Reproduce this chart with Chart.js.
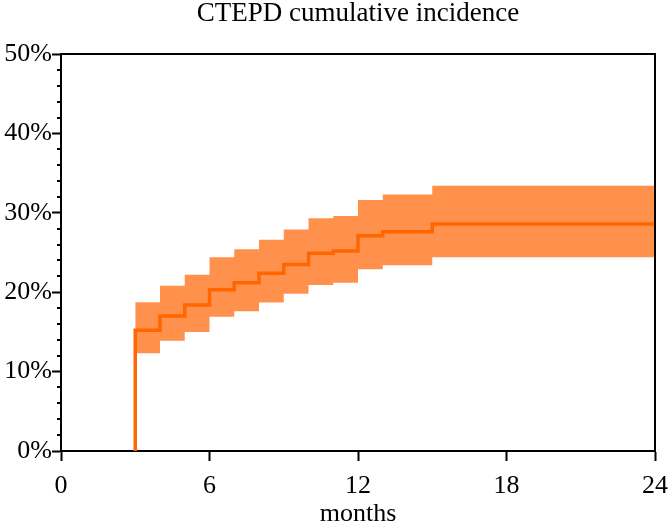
<!DOCTYPE html>
<html>
<head>
<meta charset="utf-8">
<script src="https://cdn.jsdelivr.net/npm/chart.js@4/dist/chart.umd.min.js"></script>
<style>
  html, body { margin: 0; padding: 0; background: #ffffff; }
  #wrap { width: 669px; height: 525px; }
</style>
</head>
<body>
<div id="wrap"><canvas id="c" width="669" height="525"></canvas></div>
<script>
// Data (months since event, cumulative incidence %)
const months   = [3, 4, 5, 6, 7, 8, 9, 10, 11, 12, 13, 15, 24];
const estimate = [15.2, 17.0, 18.4, 20.3, 21.2, 22.4, 23.5, 24.9, 25.2, 27.1, 27.6, 28.6, 28.6];
const upperCI  = [18.75, 20.8, 22.2, 24.4, 25.4, 26.6, 27.9, 29.3, 29.6, 31.6, 32.3, 33.4, 33.4];
const lowerCI  = [12.3, 13.9, 15.0, 16.9, 17.6, 18.7, 19.8, 20.9, 21.2, 22.9, 23.4, 24.4, 24.4];
const startMonth = 3;
const startValue = 0;
const xTicks = [0, 6, 12, 18, 24];
const yTicks = [0, 10, 20, 30, 40, 50];
const titleText = 'CTEPD cumulative incidence';

const toPts = (xs, ys) => xs.map((x, i) => ({ x: x, y: ys[i] }));
const estPts = [{ x: startMonth, y: startValue }].concat(toPts(months, estimate));

const FONT = '"Liberation Serif", "Times New Roman", serif';

const frameAndMinor = {
  id: 'frameAndMinor',
  afterDraw(chart) {
    const ctx = chart.ctx;
    const a = chart.chartArea;
    const ys = chart.scales.y;
    ctx.save();
    ctx.strokeStyle = '#000';
    ctx.lineWidth = 2;
    ctx.beginPath();
    ctx.moveTo(a.left, a.top);
    ctx.lineTo(a.right, a.top);
    ctx.lineTo(a.right, a.bottom);
    ctx.stroke();
    // minor ticks every 2%
    ctx.beginPath();
    for (let v = ys.min; v <= ys.max; v += 2) {
      if (v % 10 === 0) continue;
      const py = Math.round(ys.getPixelForValue(v));
      ctx.moveTo(a.left - 4, py);
      ctx.lineTo(a.left, py);
    }
    ctx.stroke();
    // title centred over the plot area
    ctx.fillStyle = '#000';
    ctx.font = '27px ' + FONT;
    ctx.textAlign = 'center';
    ctx.textBaseline = 'alphabetic';
    ctx.fillText(titleText, (a.left + a.right) / 2, 21);
    ctx.restore();
  }
};

new Chart(document.getElementById('c'), {
  type: 'line',
  data: {
    datasets: [
      {
        label: 'CTEPD',
        data: estPts,
        stepped: 'before',
        borderColor: '#FF6600',
        borderWidth: 3.5,
        pointRadius: 0,
        fill: false
      },
      {
        label: 'upper',
        data: toPts(months, upperCI),
        stepped: 'before',
        borderWidth: 0,
        borderColor: 'rgba(0,0,0,0)',
        backgroundColor: '#FF914D',
        pointRadius: 0,
        fill: '+1'
      },
      {
        label: 'lower',
        data: toPts(months, lowerCI),
        stepped: 'before',
        borderWidth: 0,
        borderColor: 'rgba(0,0,0,0)',
        pointRadius: 0,
        fill: false
      }
    ]
  },
  options: {
    responsive: false,
    animation: false,
    devicePixelRatio: 1,
    layout: { padding: { left: 0, right: 14, top: 54, bottom: 0 } },
    plugins: {
      legend: { display: false },
      tooltip: { enabled: false },
      title: { display: false }
    },
    scales: {
      x: {
        type: 'linear',
        min: 0,
        max: 24,
        afterBuildTicks(s) { s.ticks = xTicks.map(v => ({ value: v })); },
        afterFit(s) { s.height = 74; s.paddingLeft = 0; s.paddingRight = 0; },
        border: { display: true, color: '#000', width: 2 },
        grid: { display: true, drawOnChartArea: false, drawTicks: true, tickLength: 10, tickColor: '#000', tickWidth: 2 },
        ticks: { color: '#000', padding: 10, maxRotation: 0, autoSkip: false, font: { family: FONT, size: 26 } },
        title: { display: true, text: 'months', color: '#000', padding: { top: 0, bottom: -2 }, font: { family: FONT, size: 26, lineHeight: 1.0 } }
      },
      y: {
        type: 'linear',
        min: 0,
        max: 50,
        afterBuildTicks(s) { s.ticks = yTicks.map(v => ({ value: v })); },
        afterFit(s) { s.width = 61; s.paddingTop = 0; s.paddingBottom = 0; },
        border: { display: true, color: '#000', width: 2 },
        grid: { display: true, drawOnChartArea: false, drawTicks: true, tickLength: 9, tickColor: '#000', tickWidth: 2 },
        ticks: { color: '#000', padding: 0, autoSkip: false, font: { family: FONT, size: 26 }, callback: v => v + '%' }
      }
    }
  },
  plugins: [frameAndMinor]
});
</script>
</body>
</html>
